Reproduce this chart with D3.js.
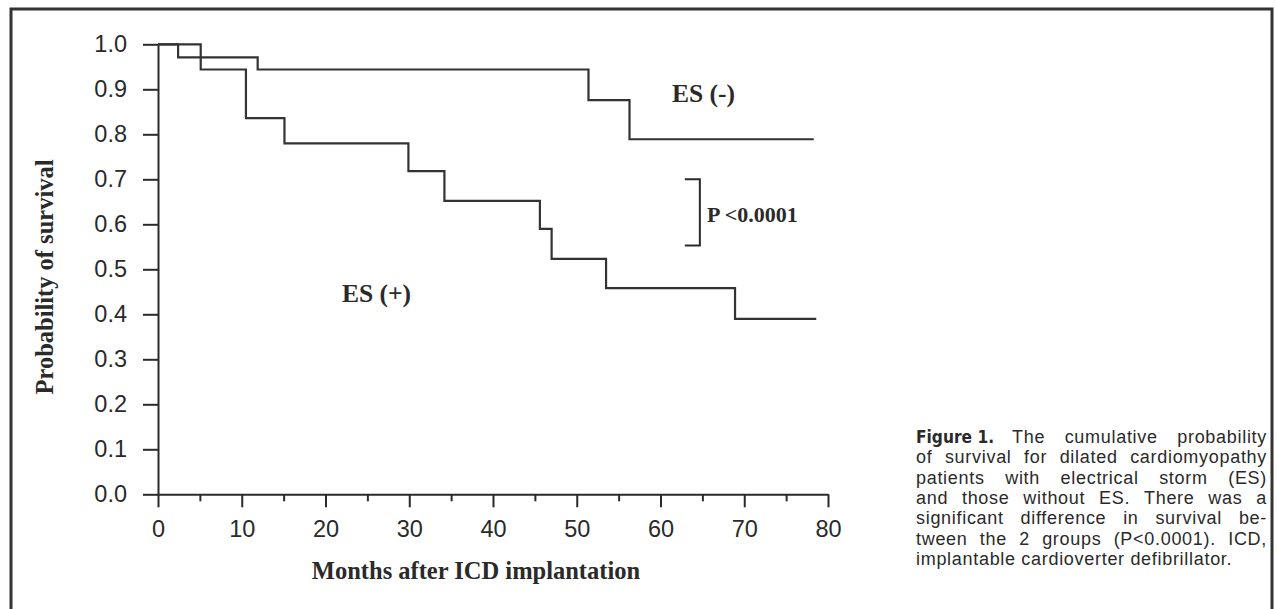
<!DOCTYPE html>
<html>
<head>
<meta charset="utf-8">
<script src="https://cdn.jsdelivr.net/npm/d3@7"></script>
<style>
  body { margin: 0; background: #fff; }
  svg { display: block; }
</style>
</head>
<body>
<script>
// survival data (months, probability)
var esMinusTimes = [0, 2.4, 11.9, 51.4, 56.3, 78.3];
var esMinusSurv  = [1.0, 0.971, 0.944, 0.876, 0.789, 0.789];

var esPlusTimes = [0, 5.1, 10.5, 15.1, 29.9, 34.2, 45.6, 47.0, 53.5, 68.9, 78.6];
var esPlusSurv  = [1.0, 0.944, 0.836, 0.780, 0.718, 0.652, 0.590, 0.523, 0.458, 0.390, 0.390];

var yTicks = [0, 0.1, 0.2, 0.3, 0.4, 0.5, 0.6, 0.7, 0.8, 0.9, 1.0];
var xMajorTicks = [0, 10, 20, 30, 40, 50, 60, 70, 80];
var xMinorTicks = [5, 15, 25, 35, 45, 55, 65, 75];

var captionLines = [
  "The cumulative probability",
  "of survival for dilated cardiomyopathy",
  "patients with electrical storm (ES)",
  "and those without ES. There was a",
  "significant difference in survival be-",
  "tween the 2 groups (P<0.0001). ICD,",
  "implantable cardioverter defibrillator."
];

var svgWidth = 1276;
var svgHeight = 609;

var svg = d3.select("body")
  .append("svg")
  .attr("width", svgWidth)
  .attr("height", svgHeight);

// outer frame (bottom edge runs off the scan)
svg.append("rect")
  .attr("x", 11)
  .attr("y", 9)
  .attr("width", 1261)
  .attr("height", 700)
  .attr("fill", "none")
  .attr("stroke", "#333")
  .attr("stroke-width", 3);

// scales
var x = d3.scaleLinear().domain([0, 80]).range([158, 828]);
var y = d3.scaleLinear().domain([0, 1]).range([494.3, 44.3]);

var sans = "'Liberation Sans', Arial, Helvetica, sans-serif";
var serif = "'Liberation Serif', 'Times New Roman', serif";

// y axis
var leftAxis = d3.axisLeft(y)
  .tickValues(yTicks)
  .tickFormat(d3.format(".1f"))
  .tickSize(15)
  .tickPadding(16)
  .tickSizeOuter(0);

var yAxisG = svg.append("g")
  .attr("transform", `translate(${x(0)},0)`)
  .call(leftAxis);

// x axis, major + minor ticks
var bottomAxis = d3.axisBottom(x)
  .tickValues(xMajorTicks)
  .tickFormat(d3.format("d"))
  .tickSize(13)
  .tickPadding(13)
  .tickSizeOuter(0);

var xAxisG = svg.append("g")
  .attr("transform", `translate(0,${y(0)})`)
  .call(bottomAxis);

var minorAxis = d3.axisBottom(x)
  .tickValues(xMinorTicks)
  .tickFormat("")
  .tickSize(7)
  .tickSizeOuter(0);

var minorG = svg.append("g")
  .attr("transform", `translate(0,${y(0)})`)
  .call(minorAxis);
minorG.select(".domain").remove();

[yAxisG, xAxisG, minorG].forEach(function(g) {
  g.selectAll("path, line")
    .attr("stroke", "#2a2a2a")
    .attr("stroke-width", 2);
  g.selectAll("text")
    .attr("fill", "#2a2a2a")
    .style("font-family", sans)
    .style("font-size", "23.5px");
});

// survival curves
var stepLine = d3.line()
  .x(d => x(d[0]))
  .y(d => y(d[1]))
  .curve(d3.curveStepAfter);

var esMinus = esMinusTimes.map((t, i) => [t, esMinusSurv[i]]);
var esPlus = esPlusTimes.map((t, i) => [t, esPlusSurv[i]]);

[esMinus, esPlus].forEach(function(series) {
  svg.append("path")
    .datum(series)
    .attr("d", stepLine)
    .attr("fill", "none")
    .attr("stroke", "#333")
    .attr("stroke-width", 2.2);
});

// group labels
svg.append("text")
  .attr("x", 672)
  .attr("y", 102)
  .style("font-family", serif)
  .style("font-weight", "bold")
  .style("font-size", "25.5px")
  .attr("fill", "#2a2a2a")
  .text("ES (-)");

svg.append("text")
  .attr("x", 342)
  .attr("y", 302)
  .style("font-family", serif)
  .style("font-weight", "bold")
  .style("font-size", "25.5px")
  .attr("fill", "#2a2a2a")
  .text("ES (+)");

// p-value bracket
var bx0 = 62.9, bx1 = 64.7, by0 = 0.70, by1 = 0.553;
svg.append("path")
  .attr("d", `M${x(bx0)},${y(by0)}H${x(bx1)}V${y(by1)}H${x(bx0)}`)
  .attr("fill", "none")
  .attr("stroke", "#2a2a2a")
  .attr("stroke-width", 2);

svg.append("text")
  .attr("x", 707)
  .attr("y", 222)
  .style("font-family", serif)
  .style("font-weight", "bold")
  .style("font-size", "22px")
  .attr("fill", "#2a2a2a")
  .text("P <0.0001");

// axis titles
svg.append("text")
  .attr("transform", "rotate(-90)")
  .attr("x", -277)
  .attr("y", 53)
  .attr("text-anchor", "middle")
  .style("font-family", serif)
  .style("font-weight", "bold")
  .style("font-size", "24.5px")
  .attr("fill", "#2a2a2a")
  .text("Probability of survival");

svg.append("text")
  .attr("x", 476)
  .attr("y", 579)
  .attr("text-anchor", "middle")
  .style("font-family", serif)
  .style("font-weight", "bold")
  .style("font-size", "24.5px")
  .attr("fill", "#2a2a2a")
  .text("Months after ICD implantation");

// caption, justified word by word
var capLeft = 916, capRight = 1267, capTop = 443, capLead = 20.3;
var cap = svg.append("g")
  .style("font-family", sans)
  .style("font-size", "18px")
  .style("letter-spacing", "0.7px")
  .attr("fill", "#2a2a2a");

var figLabel = cap.append("text")
  .attr("x", capLeft)
  .attr("y", capTop)
  .attr("textLength", 78)
  .attr("lengthAdjust", "spacingAndGlyphs")
  .style("letter-spacing", "0px")
  .style("font-family", "'Liberation Sans Narrow', 'DejaVu Sans Condensed', sans-serif")
  .style("font-weight", "bold")
  .text("Figure 1.");

captionLines.forEach(function(line, i) {
  var words = line.split(" ");
  var start = i === 0 ? capLeft + 78 + 18 : capLeft;
  var yPos = capTop + i * capLead;
  var nodes = words.map(function(w) {
    return cap.append("text").attr("y", yPos).text(w);
  });
  var widths = nodes.map(n => n.node().getComputedTextLength());
  var total = d3.sum(widths);
  var gap = (i === captionLines.length - 1 || words.length < 2)
    ? 5.6
    : (capRight - start - total) / (words.length - 1);
  var cx = start;
  nodes.forEach(function(n, j) {
    n.attr("x", cx);
    cx += widths[j] + gap;
  });
});
</script>
</body>
</html>
